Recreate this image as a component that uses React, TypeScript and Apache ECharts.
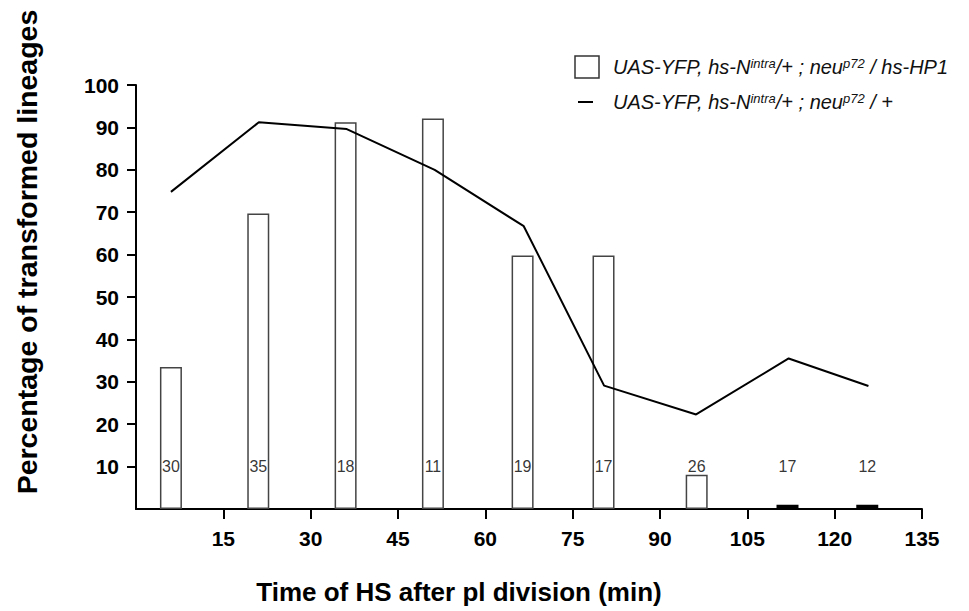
import React, { useEffect, useRef } from "react";
import * as echarts from "echarts";

const times = [6, 21, 36, 51, 66.4, 80.3, 96.3, 111.9, 125.6];
const hp1Values = [33.5, 69.7, 91.2, 92.1, 59.8, 59.8, 8.1, 1.0, 1.0];
const controlTimes = [6, 21.1, 36.2, 51.3, 66.6, 80.4, 96.2, 112.1, 125.8];
const controlValues = [74.8, 91.2, 89.6, 80.0, 66.7, 29.1, 22.3, 35.5, 29.0];
const counts = [30, 35, 18, 11, 19, 17, 26, 17, 12];
const countLevel = 10;
const xTickValues = [15, 30, 45, 60, 75, 90, 105, 120, 135];
const yTickValues = [10, 20, 30, 40, 50, 60, 70, 80, 90, 100];
const xRange = { min: 0, max: 135, interval: 15 };
const yRange = { min: 0, max: 100, interval: 10 };

const barName = "UAS-YFP, hs-Nintra/+ ; neup72 / hs-HP1";
const lineName = "UAS-YFP, hs-Nintra/+ ; neup72 / +";

const FONT = "'Liberation Sans', Arial, Helvetica, sans-serif";

export default function App() {
  const ref = useRef<HTMLDivElement>(null);
  useEffect(() => {
    if (!ref.current) return;
    const chart = echarts.init(ref.current, undefined, { renderer: "svg" });
    const richLegend = {
      i: { fontFamily: FONT, fontStyle: "italic", fontSize: 20, fill: "#111", verticalAlign: "bottom" },
      s: { fontFamily: FONT, fontStyle: "italic", fontSize: 13, fill: "#111", verticalAlign: "top" },
    };
    chart.setOption({
      animation: false,
      backgroundColor: "#fff",
      grid: { left: 136, right: 47, top: 85, bottom: 102, containLabel: false },
      xAxis: {
        type: "value",
        min: xRange.min,
        max: xRange.max,
        interval: xRange.interval,
        axisLine: { show: true, lineStyle: { color: "#000", width: 2 } },
        axisTick: { show: true, length: 10, customValues: xTickValues, lineStyle: { color: "#000", width: 2 } },
        splitLine: { show: false },
        axisLabel: {
          margin: 19,
          color: "#000",
          fontFamily: FONT,
          fontWeight: "bold",
          fontSize: 21,
          customValues: xTickValues,
        },
      },
      yAxis: {
        type: "value",
        min: yRange.min,
        max: yRange.max,
        interval: yRange.interval,
        axisLine: { show: true, lineStyle: { color: "#000", width: 2 } },
        axisTick: { show: true, length: 9, customValues: yTickValues, lineStyle: { color: "#000", width: 2 } },
        splitLine: { show: false },
        axisLabel: {
          margin: 17,
          color: "#000",
          fontFamily: FONT,
          fontWeight: "bold",
          fontSize: 21,
          customValues: yTickValues,
        },
      },
      series: [
        {
          name: barName,
          type: "bar",
          barWidth: 22,
          data: times.map((t, i) => ({
            value: [t, hp1Values[i]],
            itemStyle: hp1Values[i] < 2 ? { color: "#000", borderColor: "#000" } : undefined,
          })),
          itemStyle: { color: "#fff", borderColor: "#444", borderWidth: 1.5 },
          z: 2,
        },
        {
          name: lineName,
          type: "line",
          data: controlTimes.map((t, i) => [t, controlValues[i]]),
          showSymbol: false,
          symbol: "none",
          lineStyle: { color: "#000", width: 2 },
          z: 3,
        },
        {
          name: "n",
          type: "scatter",
          symbolSize: 0,
          data: times.map((t, i) => [t, countLevel, counts[i]]),
          label: {
            show: true,
            position: "inside",
            formatter: (p: any) => String(p.value[2]),
            color: "#000",
            fontFamily: FONT,
            fontSize: 16,
          },
          z: 4,
        },
      ],
      graphic: [
        {
          type: "rect",
          shape: { x: 575, y: 56, width: 24, height: 22 },
          style: { fill: "#fff", stroke: "#333", lineWidth: 1.5 },
        },
        {
          type: "line",
          shape: { x1: 578, y1: 102, x2: 593, y2: 102 },
          style: { stroke: "#000", lineWidth: 2 },
        },
        {
          type: "text",
          x: 613,
          y: 67,
          style: {
            text: "{i|UAS-YFP, hs-N}{s|intra}{i|/+ ; neu}{s|p72}{i| / hs-HP1}",
            rich: richLegend,
            verticalAlign: "middle",
            align: "left",
          },
        },
        {
          type: "text",
          x: 613,
          y: 102,
          style: {
            text: "{i|UAS-YFP, hs-N}{s|intra}{i|/+ ; neu}{s|p72}{i| / +}",
            rich: richLegend,
            verticalAlign: "middle",
            align: "left",
          },
        },
        {
          type: "text",
          x: 27,
          y: 252,
          rotation: Math.PI / 2,
          style: {
            text: "Percentage of transformed lineages",
            fontFamily: FONT,
            fontWeight: "bold",
            fontSize: 28.5,
            fill: "#000",
            align: "center",
            verticalAlign: "middle",
          },
        },
        {
          type: "text",
          x: 459,
          y: 592,
          style: {
            text: "Time of HS after pl division (min)",
            fontFamily: FONT,
            fontWeight: "bold",
            fontSize: 26,
            fill: "#000",
            align: "center",
            verticalAlign: "middle",
          },
        },
      ],
    });
    return () => chart.dispose();
  }, []);
  return (
    <div
      ref={ref}
      style={{ position: "fixed", left: 0, top: 0, width: 969, height: 611 }}
    />
  );
}
